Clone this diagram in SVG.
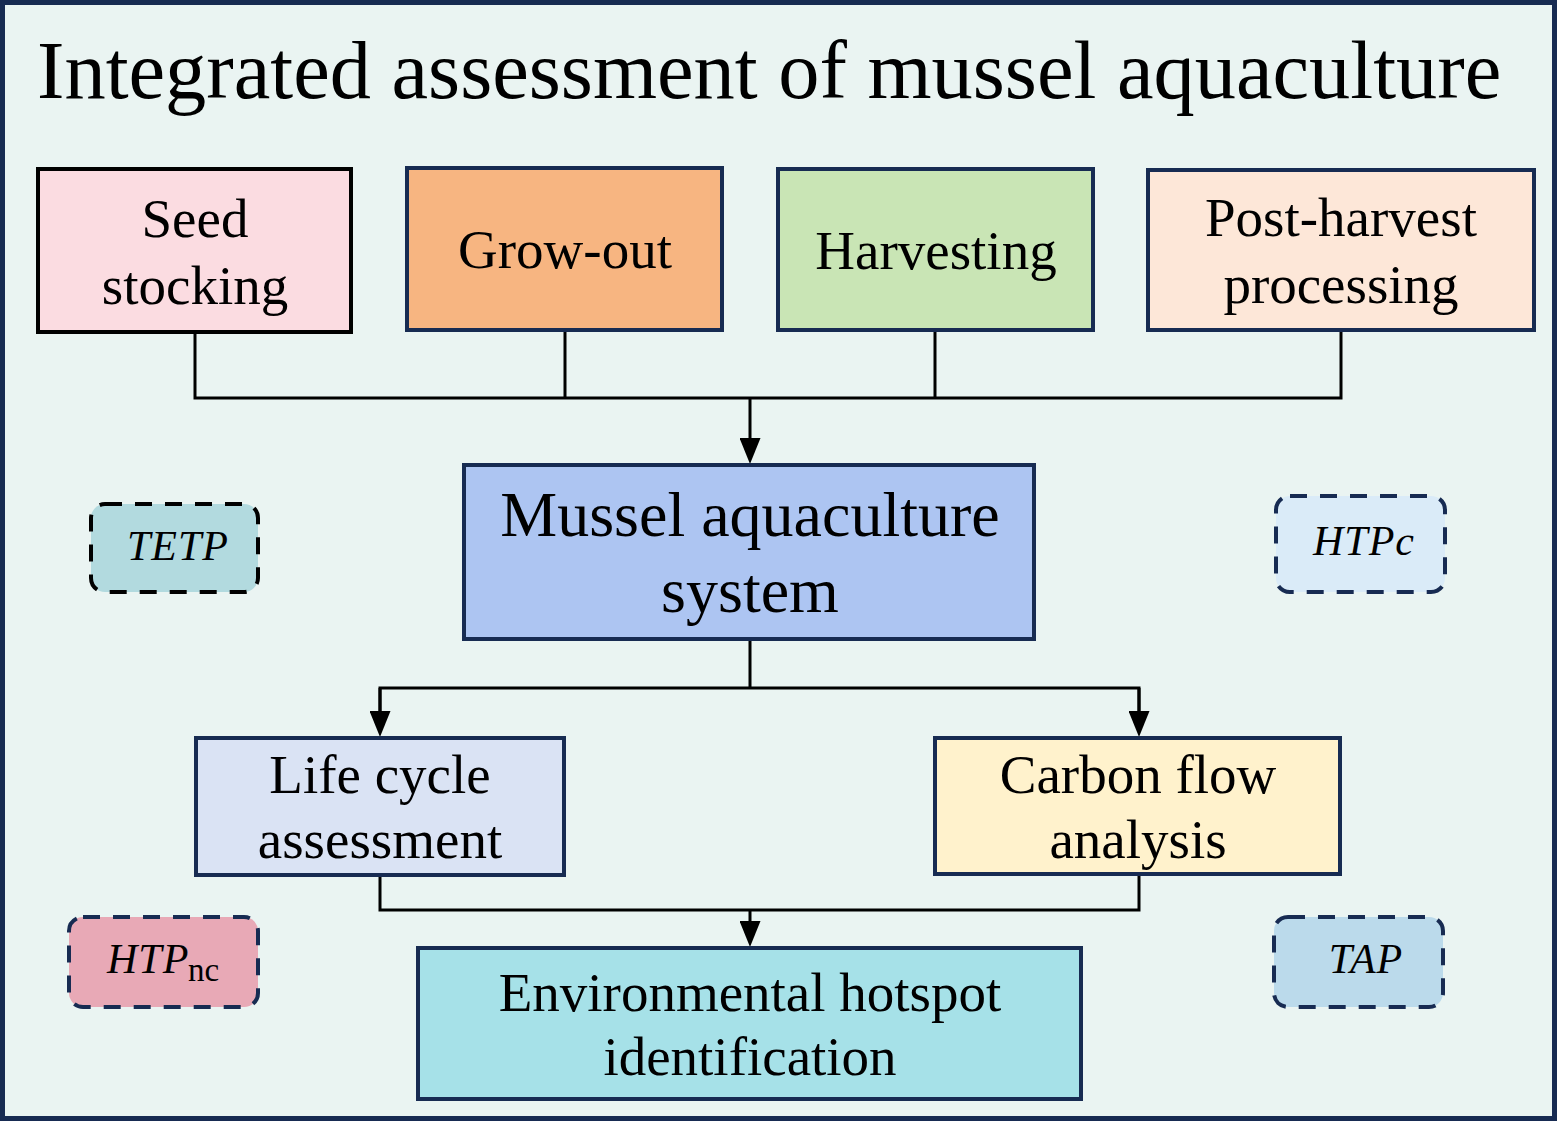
<svg xmlns="http://www.w3.org/2000/svg" width="1557" height="1121" viewBox="0 0 1557 1121">
<defs>
<style>
.box{stroke:#172b52;stroke-width:4}
.lbl{font-family:"Liberation Serif","Times New Roman",serif;font-size:55px;fill:#000;text-anchor:middle}
.big{font-size:64px}
.dash{stroke:#172b52;stroke-width:4;stroke-dasharray:17 13}
.ind{font-family:"Liberation Serif","Times New Roman",serif;font-style:italic;font-size:42px;fill:#000;text-anchor:middle;letter-spacing:1px}
.con{fill:none;stroke:#000;stroke-width:3}
</style>
<marker id="arr" viewBox="0 0 26 21" refX="0" refY="10.5" markerWidth="26" markerHeight="21" markerUnits="userSpaceOnUse" orient="auto">
<path d="M0,0 L26,10.5 L0,21 Z" fill="#000"/>
</marker>
</defs>
<rect x="2.5" y="2.5" width="1552" height="1116" fill="#eaf4f2" stroke="#172b52" stroke-width="5"/>
<text x="37" y="98" font-family="Liberation Serif, Times New Roman, serif" font-size="82.4" fill="#000">Integrated assessment of mussel aquaculture</text>

<g id="connectors">
<path class="con" d="M195,333 V398 H1341 V331"/>
<path class="con" d="M565,331 V398"/>
<path class="con" d="M935,331 V398"/>
<line class="con" x1="750" y1="398" x2="750" y2="438" marker-end="url(#arr)"/>
<path class="con" d="M750,640 V688"/>
<path class="con" d="M380,711 V688 H1139 V711"/>
<line class="con" x1="380" y1="688" x2="380" y2="711" marker-end="url(#arr)"/>
<line class="con" x1="1139" y1="688" x2="1139" y2="711" marker-end="url(#arr)"/>
<path class="con" d="M380,876 V910 H1139 V875"/>
<line class="con" x1="750" y1="910" x2="750" y2="921" marker-end="url(#arr)"/>
</g>

<g id="seed">
<rect x="38" y="169" width="313" height="163" fill="#fbdce1" stroke="#000" stroke-width="4"/>
<text class="lbl" x="195" y="237">Seed</text>
<text class="lbl" x="195" y="304">stocking</text>
</g>
<g id="growout">
<rect class="box" x="407" y="168" width="315" height="162" fill="#f7b581"/>
<text class="lbl" x="565" y="268">Grow-out</text>
</g>
<g id="harvesting">
<rect class="box" x="778" y="169" width="315" height="161" fill="#c9e5b5"/>
<text class="lbl" x="936" y="269">Harvesting</text>
</g>
<g id="postharvest">
<rect class="box" x="1148" y="170" width="386" height="160" fill="#fde7d8"/>
<text class="lbl" x="1341" y="236">Post-harvest</text>
<text class="lbl" x="1341" y="303">processing</text>
</g>
<g id="mussel">
<rect class="box" x="464" y="465" width="570" height="174" fill="#adc5f2"/>
<text class="lbl big" x="750" y="536">Mussel aquaculture</text>
<text class="lbl big" x="750" y="612">system</text>
</g>
<g id="lca">
<rect class="box" x="196" y="738" width="368" height="137" fill="#dae3f4"/>
<text class="lbl" x="380" y="793">Life cycle</text>
<text class="lbl" x="380" y="858">assessment</text>
</g>
<g id="cfa">
<rect class="box" x="935" y="738" width="405" height="136" fill="#fff2cc"/>
<text class="lbl" x="1138" y="793">Carbon flow</text>
<text class="lbl" x="1138" y="858">analysis</text>
</g>
<g id="hotspot">
<rect class="box" x="418" y="948" width="663" height="151" fill="#a6e1e8"/>
<text class="lbl" x="750" y="1011">Environmental hotspot</text>
<text class="lbl" x="750" y="1075">identification</text>
</g>
<g id="tetp">
<rect class="dash" x="91" y="504" width="167" height="88" rx="14" fill="#b2dadf" style="stroke:#000"/>
<text class="ind" x="178" y="560">TETP</text>
</g>
<g id="htpc">
<rect class="dash" x="1276" y="496" width="169" height="96" rx="14" fill="#daebf8"/>
<text class="ind" x="1364" y="555">HTPc</text>
</g>
<g id="htpnc">
<rect class="dash" x="69" y="917" width="189" height="90" rx="14" fill="#e8a9b6"/>
<text class="ind" x="107" y="973" style="text-anchor:start">HTP</text>
<text x="188" y="981" font-family="Liberation Serif, Times New Roman, serif" font-size="33" fill="#000">nc</text>
</g>
<g id="tap">
<rect class="dash" x="1274" y="917" width="169" height="90" rx="14" fill="#bbdaeb"/>
<text class="ind" x="1366" y="973">TAP</text>
</g>
</svg>
